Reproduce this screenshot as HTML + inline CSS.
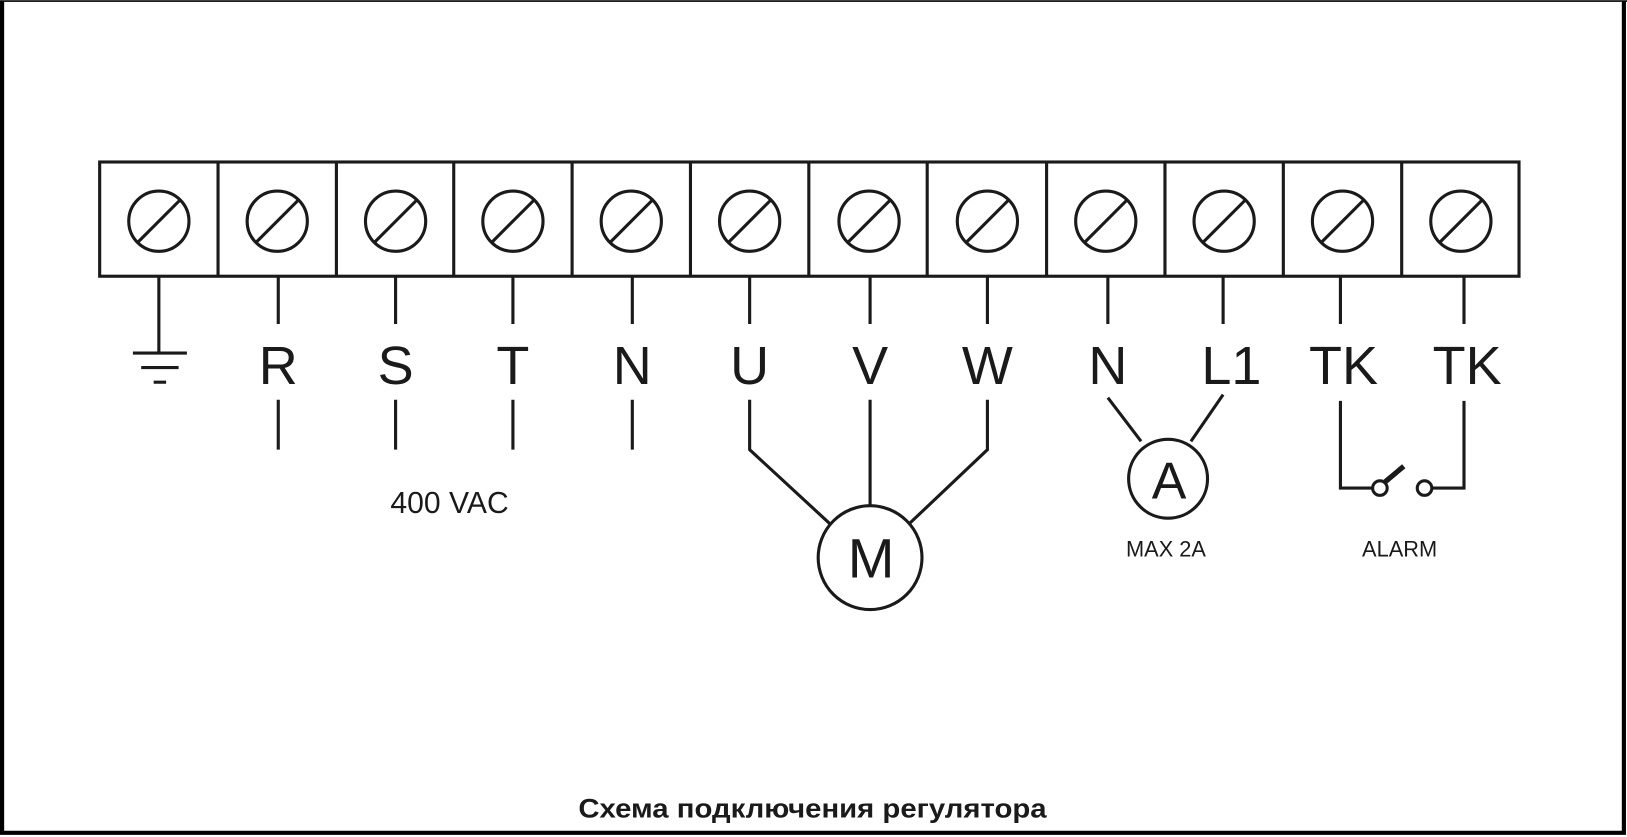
<!DOCTYPE html>
<html><head><meta charset="utf-8"><style>
html,body{margin:0;padding:0;background:#fff;}
svg{display:block;}
text{font-family:"Liberation Sans",sans-serif;fill:#1a1a1a;}
</style></head><body>
<svg width="1627" height="837" viewBox="0 0 1567 806" preserveAspectRatio="none" xmlns="http://www.w3.org/2000/svg">
<path d="M2 1V802H1564V1" fill="none" stroke="#000" stroke-width="4"/>
<path d="M0 1H1567" stroke="#000" stroke-width="1.5"/>
<g stroke="#1a1a1a" stroke-width="3" fill="none">
<rect x="96" y="156" width="1367" height="110"/>
<path d="M210 156V266M324 156V266M437 156V266M551 156V266M665 156V266M779 156V266M893 156V266M1008 156V266M1122 156V266M1236 156V266M1350 156V266"/>
<g id="s">
<circle cx="153" cy="213" r="29"/><path d="M133 233L173 193"/>
</g>
<use href="#s" x="114"/><use href="#s" x="228"/><use href="#s" x="341"/><use href="#s" x="455"/><use href="#s" x="569"/><use href="#s" x="684"/><use href="#s" x="798"/><use href="#s" x="912"/><use href="#s" x="1026"/><use href="#s" x="1140"/><use href="#s" x="1254"/>
<path d="M153 266V340M128 340H180M136 354H172M148 368H160"/>
<path d="M268 266V312M381 266V312M494 266V312M609 266V312M722 266V312M838 266V312M951 266V312M1067 266V312M1178 266V312M1291 266V312M1410 266V312"/>
<path d="M268 385V433M381 385V433M494 385V433M609 385V433"/>
<path d="M722 385V433L800 505M838 385V487M951 385V433L875 505"/>
<circle cx="838" cy="537" r="50"/>
<path d="M1067 383L1099 425M1178 380L1147 425"/>
<circle cx="1125" cy="461" r="38"/>
<path d="M1291 386V470H1321M1410 386V470H1379"/>
<circle cx="1329" cy="470" r="7"/><circle cx="1372" cy="470" r="7"/>
<path d="M1334 464L1352 449" stroke-width="5"/>
</g>
<g font-size="52" text-anchor="middle">
<text x="268" y="370">R</text><text x="381" y="370">S</text><text x="494" y="370">T</text><text x="609" y="370">N</text>
<text x="722" y="370">U</text><text x="838" y="370">V</text><text x="951" y="370">W</text>
<text x="1067" y="370">N</text><text x="1186" y="370">L1</text><text x="1294" y="370">TK</text><text x="1413" y="370">TK</text>
</g>
<text x="839" y="556" font-size="54" text-anchor="middle">M</text>
<text x="1126" y="480" font-size="50" text-anchor="middle">A</text>
<text x="433" y="494" font-size="29" text-anchor="middle">400 VAC</text>
<text x="1123" y="536" font-size="21" text-anchor="middle">MAX 2A</text>
<text x="1348" y="536" font-size="21" text-anchor="middle">ALARM</text>
<text x="557" y="787" font-size="26" font-weight="bold" textLength="451" lengthAdjust="spacingAndGlyphs">Схема подключения регулятора</text>
</svg>
</body></html>
